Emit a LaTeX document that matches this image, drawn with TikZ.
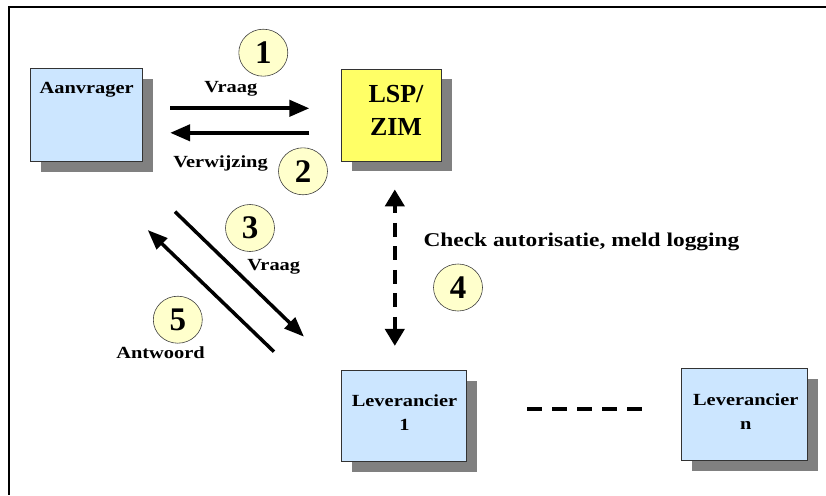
\documentclass[tikz,border=0pt]{standalone}
\usepackage{fontspec}
\setmainfont{Liberation Serif}
\newfontfamily\lblfont[FakeStretch=1.2]{Liberation Serif}
\usetikzlibrary{arrows.meta,shapes.geometric,shadows}

\definecolor{boxblue}{RGB}{204,230,255}
\definecolor{boxyellow}{RGB}{255,255,102}
\definecolor{numfill}{RGB}{255,255,204}
\definecolor{shadowgray}{RGB}{128,128,128}

\begin{document}
\begin{tikzpicture}[x=1pt,y=-1pt,
  box/.style={rectangle, draw=black!80, line width=0.8pt, inner sep=0pt,
    drop shadow={shadow xshift=10pt, shadow yshift=-10pt, fill=shadowgray, opacity=1}},
  bluebox/.style={box, fill=boxblue},
  yellowbox/.style={box, fill=boxyellow},
  num/.style={ellipse, draw=black!75, line width=0.6pt, fill=numfill,
    minimum width=49pt, minimum height=47pt, inner sep=0pt,
    font=\fontsize{33}{33}\selectfont\bfseries},
  lbl/.style={inner sep=0pt, font=\lblfont\fontsize{17}{24}\bfseries\selectfont, align=center},
  bigarrow/.style={line width=4pt, -{Triangle[length=20pt,width=16pt]}},
  diagarrow/.style={line width=3.5pt, -{Triangle[length=20pt,width=15pt]}},
  dasharrow/.style={line width=4.5pt, dash pattern=on 14pt off 9.5pt, dash phase=6pt,
    {Triangle[length=17pt,width=19pt]}-{Triangle[length=17pt,width=19pt]}},
  dashline/.style={line width=4pt, dash pattern=on 15pt off 10pt}
]
\useasboundingbox (0,0) rectangle (826,495);

% frame: top and left edge
\draw[line width=2pt] (826,7) -- (9,7) -- (9,495);

% boxes
\node[bluebox, minimum width=112pt, minimum height=93pt] (aanv) at (86.7,115.3) {};
\node[yellowbox, minimum width=100pt, minimum height=92pt] (lsp) at (391.8,115) {};
\node[bluebox, minimum width=125pt, minimum height=91pt] (lev1) at (404.2,416.3) {};
\node[bluebox, minimum width=126pt, minimum height=92pt] (levn) at (744.8,414.8) {};

% box texts
\node[lbl, anchor=base] at (86.6,93.3) {Aanvrager};
\node[inner sep=0pt, anchor=north, align=center,
      font=\fontsize{26}{33}\bfseries\selectfont] at (396,85) {LSP/\\ZIM};
\node[lbl, anchor=north] at (404.5,394.5) {Leverancier\\1};
\node[lbl, anchor=north] at (745.8,393) {Leverancier\\n};

% request / referral between requester and LSP
\draw[bigarrow, shorten <=27pt, shorten >=32pt] ([yshift=7pt]aanv.east) -- ([yshift=7pt]aanv.east -| lsp.west);
\draw[bigarrow, shorten <=32pt, shorten >=27pt] ([yshift=-17.5pt]aanv.east -| lsp.west) -- ([yshift=-17.5pt]aanv.east);

% request / answer between requester and supplier
\coordinate (q3s) at (175,211.7);
\coordinate (q3e) at (304,336.7);
\coordinate (a5s) at (274,351.7);
\coordinate (a5e) at (147.7,230);
\draw[diagarrow] (q3s) -- (q3e);
\draw[diagarrow] (a5s) -- (a5e);

% authorisation check
\draw[dasharrow, shorten <=28pt, shorten >=24.5pt] ([xshift=3pt]lsp.south) -- ([xshift=3pt]lsp.south |- lev1.north);

% further suppliers
\draw[dashline, shorten <=60pt, shorten >=36.3pt] ([yshift=7.6pt]lev1.east) -- ([yshift=7.6pt]lev1.east -| levn.west);

% labels
\node[lbl, anchor=base] at (230.8,92.7) {Vraag};
\node[lbl, anchor=base] at (220.5,167.7) {Verwijzing};
\node[lbl, anchor=base] at (273.7,270) {Vraag};
\node[lbl, anchor=base] at (160.5,358.3) {Antwoord};
\node[lbl, anchor=base west, font=\lblfont\fontsize{19.5}{24}\bfseries\selectfont] at (423.3,246.7) {Check autorisatie, meld logging};

% step numbers
\node[num] (n1) at (263.3,52.7) {1};
\node[num] (n2) at (303,171.3) {2};
\node[num] (n3) at (250,228) {3};
\node[num] (n4) at (458,287.5) {4};
\node[num] (n5) at (177.8,319.7) {5};
\end{tikzpicture}
\end{document}
